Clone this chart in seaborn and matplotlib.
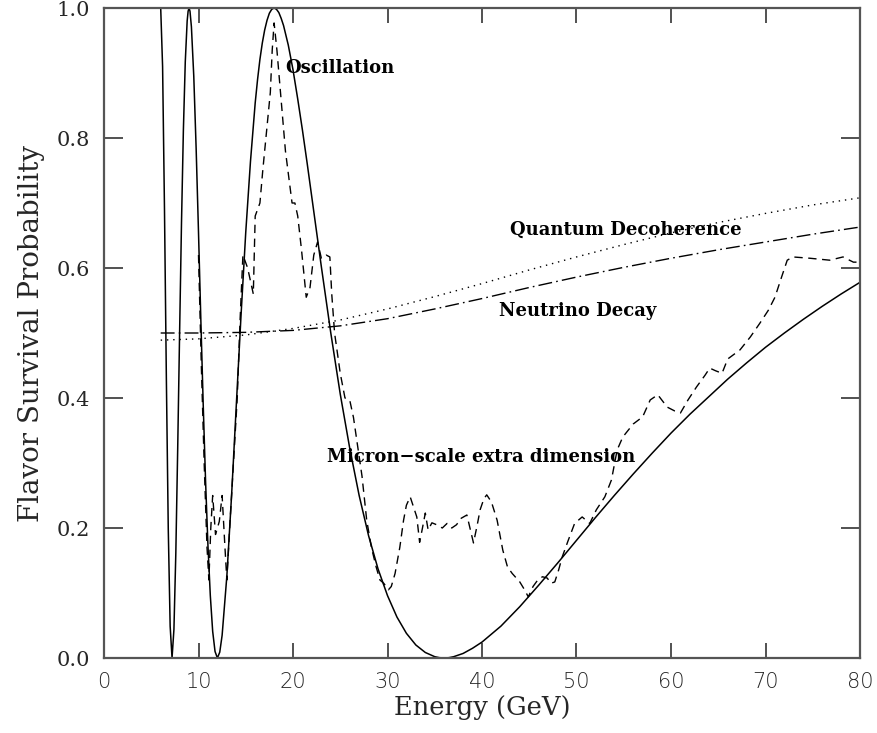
import numpy as np
import pandas as pd
import matplotlib
matplotlib.use("Agg")
import matplotlib.pyplot as plt
import seaborn as sns

# ---- data ----
osc_E = [6.0, 6.2, 6.4, 6.6, 6.8, 7.0, 7.2, 7.4, 7.6, 7.8, 8.0, 8.2, 8.4, 8.6, 8.8,
         8.9, 9.0, 9.1, 9.25, 9.5, 9.75, 10.0, 10.25, 10.5, 10.75, 11.0, 11.25,
         11.5, 11.75, 12.0, 12.25, 12.5, 13.0, 13.5, 14.0, 14.5, 15.0, 15.5, 16.0,
         16.25, 16.5, 16.75, 17.0, 17.25, 17.5, 17.75, 18.0, 18.25, 18.5, 18.75,
         19, 19.5, 20, 20.5, 21, 21.5, 22, 23, 24, 25, 26, 27, 28, 29, 30, 31, 32,
         33, 34, 35, 35.5, 36, 36.5, 37, 38, 39, 40, 42, 44, 46, 48, 50, 52, 54,
         56, 58, 60, 62, 64, 66, 68, 70, 72, 74, 76, 78, 80]
osc_P = [1.0, 0.910, 0.691, 0.429, 0.199, 0.049, 0.0, 0.044, 0.161, 0.323, 0.5,
         0.669, 0.812, 0.917, 0.980, 0.995, 1.0, 0.995, 0.971, 0.895, 0.784, 0.655,
         0.519, 0.389, 0.271, 0.173, 0.096, 0.041, 0.010, 0.0, 0.009, 0.035, 0.126,
         0.25, 0.389, 0.527, 0.655, 0.764, 0.854, 0.890, 0.921, 0.946, 0.966,
         0.981, 0.992, 0.998, 1.0, 0.998, 0.993, 0.984, 0.973, 0.943, 0.905, 0.860,
         0.812, 0.761, 0.708, 0.602, 0.5, 0.406, 0.323, 0.25, 0.188, 0.137, 0.096,
         0.063, 0.038, 0.020, 0.0085, 0.002, 0.0005, 0.0, 0.0005, 0.002, 0.007,
         0.015, 0.0245, 0.049, 0.079, 0.112, 0.146, 0.181, 0.216, 0.25, 0.283,
         0.315, 0.346, 0.375, 0.402, 0.429, 0.454, 0.478, 0.5, 0.521, 0.541,
         0.560, 0.578]

dec_E = [6, 10, 15, 20, 25, 30, 35, 40, 45, 50, 55, 60, 65, 70, 75, 80]
decoh_P = [0.489, 0.491, 0.497, 0.507, 0.520, 0.537, 0.556, 0.576, 0.597, 0.617,
           0.636, 0.654, 0.670, 0.684, 0.697, 0.708]
decay_P = [0.500, 0.500, 0.501, 0.504, 0.511, 0.522, 0.537, 0.553, 0.570, 0.586,
           0.601, 0.615, 0.628, 0.640, 0.652, 0.663]

xd_E = [10.0, 10.3, 10.6, 10.9, 11.1, 11.3, 11.5, 11.8, 12.2, 12.5, 12.8, 13.0,
        13.3, 13.7, 14.1, 14.4, 14.7, 15.2, 15.8, 16.0, 16.5, 16.8, 17.2, 17.6,
        17.8, 18.0, 18.3, 18.8, 19.2, 19.6, 19.9, 20.2, 20.5, 20.9, 21.4, 21.8,
        22.2, 22.6, 23.0, 23.5, 23.9, 24.1, 24.4, 25.0, 25.5, 26.0, 26.4, 26.8,
        27.3, 27.8, 28.3, 28.8, 29.2, 29.6, 30.1, 30.4, 30.8, 31.3, 31.7, 32.0,
        32.4, 32.8, 33.1, 33.4, 33.7, 34.0, 34.3, 34.7, 35.2, 35.8, 36.3, 36.8,
        37.3, 37.8, 38.4, 38.8, 39.1, 39.5, 39.8, 40.2, 40.5, 41.0, 41.6, 42.2,
        42.7, 43.2, 44.0, 44.5, 44.9, 45.4, 45.9, 46.4, 46.9, 47.3, 47.7, 48.1,
        48.5, 49.1, 49.8, 50.6, 51.4, 52.1, 53.0, 53.7, 54.3, 54.9, 56.0, 57.0,
        57.8, 58.6, 59.6, 60.4, 61.0, 61.8, 62.7, 63.6, 64.1, 64.7, 65.4, 66.0,
        67.3, 68.4, 69.4, 70.3, 71.0, 71.7, 72.3, 72.9, 74.7, 76.8, 78.2, 79.3,
        80.0]
xd_P = [0.620, 0.45, 0.30, 0.17, 0.12, 0.20, 0.25, 0.19, 0.21, 0.25, 0.17, 0.12,
        0.20, 0.30, 0.40, 0.52, 0.62, 0.60, 0.56, 0.68, 0.70, 0.75, 0.81, 0.87,
        0.935, 0.977, 0.935, 0.85, 0.78, 0.735, 0.70, 0.70, 0.68, 0.628, 0.555,
        0.57, 0.62, 0.64, 0.615, 0.62, 0.617, 0.56, 0.50, 0.438, 0.40, 0.397,
        0.37, 0.33, 0.28, 0.212, 0.17, 0.14, 0.12, 0.115, 0.105, 0.11, 0.13,
        0.17, 0.212, 0.235, 0.248, 0.23, 0.217, 0.178, 0.20, 0.223, 0.197, 0.208,
        0.205, 0.20, 0.207, 0.20, 0.205, 0.215, 0.22, 0.195, 0.177, 0.205, 0.228,
        0.245, 0.251, 0.24, 0.212, 0.166, 0.14, 0.13, 0.117, 0.105, 0.094, 0.11,
        0.12, 0.125, 0.123, 0.115, 0.117, 0.135, 0.156, 0.18, 0.207, 0.217, 0.207,
        0.228, 0.248, 0.274, 0.32, 0.34, 0.36, 0.371, 0.397, 0.405, 0.386, 0.38,
        0.377, 0.397, 0.417, 0.435, 0.446, 0.442, 0.438, 0.46, 0.474, 0.494, 0.515,
        0.535, 0.555, 0.586, 0.612, 0.617, 0.615, 0.612, 0.617, 0.609, 0.609]

x_ticks = [0, 10, 20, 30, 40, 50, 60, 70, 80]
y_ticks = [0.0, 0.2, 0.4, 0.6, 0.8, 1.0]
labels = ["Oscillation", "Quantum Decoherence", "Neutrino Decay",
          "Micron\u2212scale extra dimension"]
label_E = [19.2, 43.0, 41.8, 23.6]
label_P = [0.908, 0.658, 0.534, 0.309]

# ---- plotting ----
sns.set_style("white")
plt.rcParams["font.family"] = ["DejaVu Serif"]

fig = plt.figure(figsize=(8.78, 7.33), dpi=100)
ax = fig.add_axes([104 / 878, 75 / 733, 756 / 878, 650 / 733])

sns.lineplot(x=osc_E, y=osc_P, ax=ax, color="black", linewidth=1.1,
             sort=False, estimator=None)
sns.lineplot(x=xd_E, y=xd_P, ax=ax, color="black", linewidth=1.0,
             sort=False, estimator=None)
ax.lines[-1].set_dashes((6, 4))
sns.lineplot(x=dec_E, y=decoh_P, ax=ax, color="black", linewidth=1.0,
             sort=False, estimator=None)
ax.lines[-1].set_dashes((1, 3.5))
sns.lineplot(x=dec_E, y=decay_P, ax=ax, color="black", linewidth=1.0,
             sort=False, estimator=None)
ax.lines[-1].set_dashes((10, 3, 1.2, 3))

for t, xe, yp in zip(labels, label_E, label_P):
    ax.text(xe, yp, t, fontsize=13, fontweight="bold", family="DejaVu Serif",
            va="center", ha="left", color="black")

ax.set_xlim(0, 80)
ax.set_ylim(0, 1.0)
ax.set_xticks(x_ticks)
ax.set_yticks(y_ticks)
ax.set_xticklabels([str(v) for v in x_ticks], family="DejaVu Sans",
                   fontweight="light", fontsize=15)
ax.set_yticklabels([f"{v:.1f}" for v in y_ticks], family="DejaVu Serif",
                   fontsize=15)
ax.tick_params(axis="both", direction="in", length=14, width=1.2,
               top=True, right=True, bottom=True, left=True, pad=10,
               color="#333333")
ax.tick_params(axis="x", length=11)
for s in ax.spines.values():
    s.set_linewidth(1.6)
    s.set_color("#555555")

ax.set_xlabel("Energy (GeV)", fontsize=18.5, family="DejaVu Serif", labelpad=2)
ax.set_ylabel("Flavor Survival Probability", fontsize=20, family="DejaVu Serif",
              labelpad=8)

fig.savefig("out.png", dpi=100)
